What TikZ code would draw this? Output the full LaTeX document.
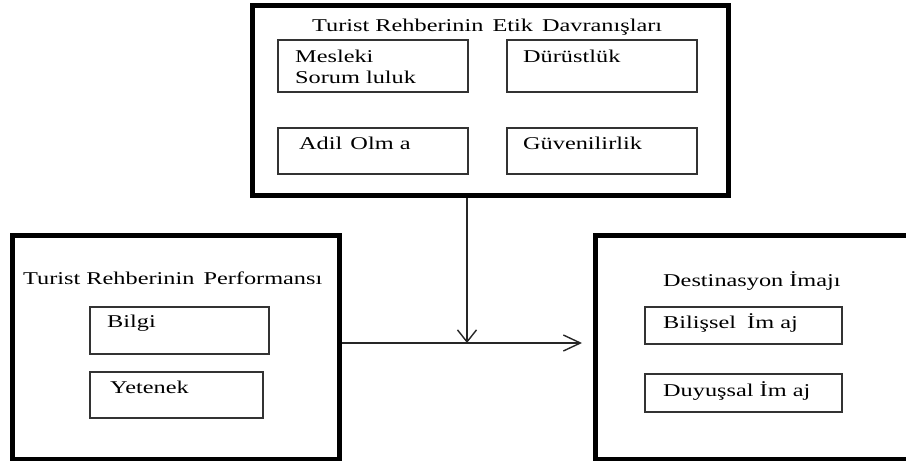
\documentclass[tikz,border=0pt]{standalone}
\usepackage{fontspec}
\setmainfont[FakeStretch=1.35]{Liberation Serif}
\usetikzlibrary{arrows.meta}
\begin{document}
\begin{tikzpicture}[x=1pt,y=-1pt,
  bigbox/.style={draw=black, line width=4.5pt, inner sep=0pt, anchor=north west},
  smallbox/.style={draw=black!80, line width=1.6pt, inner sep=0pt, anchor=north west},
  lbl/.style={anchor=base west, inner sep=0pt, font=\fontsize{18}{21}\selectfont, text=black},
  conn/.style={line width=1.4pt, draw=black!85}
]
\useasboundingbox (0,0) rectangle (906,461);
\clip (0,0) rectangle (906,461);
\fill[white] (0,0) rectangle (906,461);

% big boxes
\node[bigbox, minimum width=476pt, minimum height=190pt] (ethics) at (250,3) {};
\node[bigbox, minimum width=327pt, minimum height=224pt] (perf) at (10,233) {};
\node[bigbox, minimum width=352pt, minimum height=224pt] (dest) at (593,233) {};

% inner boxes
\node[smallbox, minimum width=190pt, minimum height=52pt] (mesleki) at (277,39) {};
\node[smallbox, minimum width=190pt, minimum height=52pt] (durust) at (506,39) {};
\node[smallbox, minimum width=190pt, minimum height=46pt] (adil) at (277,127) {};
\node[smallbox, minimum width=190pt, minimum height=46pt] (guven) at (506,127) {};
\node[smallbox, minimum width=179pt, minimum height=47pt] (bilgi) at (89,306) {};
\node[smallbox, minimum width=173pt, minimum height=46pt] (yetenek) at (89,371) {};
\node[smallbox, minimum width=197pt, minimum height=37pt] (bilissel) at (644,306) {};
\node[smallbox, minimum width=197pt, minimum height=38pt] (duyussal) at (644,373) {};

% labels
\node[lbl] (ethicsT) at (312,31) {Turist Rehberinin\hspace{3pt} Etik\hspace{3pt} Davranışları};
\node[lbl] (meslekiT1) at (295,62) {Mesleki};
\node[lbl] (meslekiT2) at (295,83) {Sorum luluk};
\node[lbl] (durustT) at (523,62) {Dürüstlük};
\node[lbl] (adilT) at (299,149) {Adil\hspace{2pt} Olm a};
\node[lbl] (guvenT) at (523,149) {Güvenilirlik};
\node[lbl] (perfT) at (23,284) {Turist Rehberinin\hspace{3pt} Performansı};
\node[lbl] (bilgiT) at (107,327) {Bilgi};
\node[lbl] (yetenekT) at (110,393) {Yetenek};
\node[lbl] (destT) at (663,286) {Destinasyon İmajı};
\node[lbl] (bilisselT) at (663,328) {Bilişsel\hspace{5pt} İm aj};
\node[lbl] (duyussalT) at (663,396) {Duyuşsal İm aj};

% connectors
\coordinate (junc) at (467,343);
\coordinate (tip) at (582,343);
\draw[conn, -{Straight Barb[length=12pt,width=19pt,line width=1.4pt]}] (ethics.south -| junc) -- (junc);
\draw[conn, -{Straight Barb[length=17pt,width=16pt,line width=1.4pt]}] (perf.east |- junc) -- (tip);
\end{tikzpicture}
\end{document}
